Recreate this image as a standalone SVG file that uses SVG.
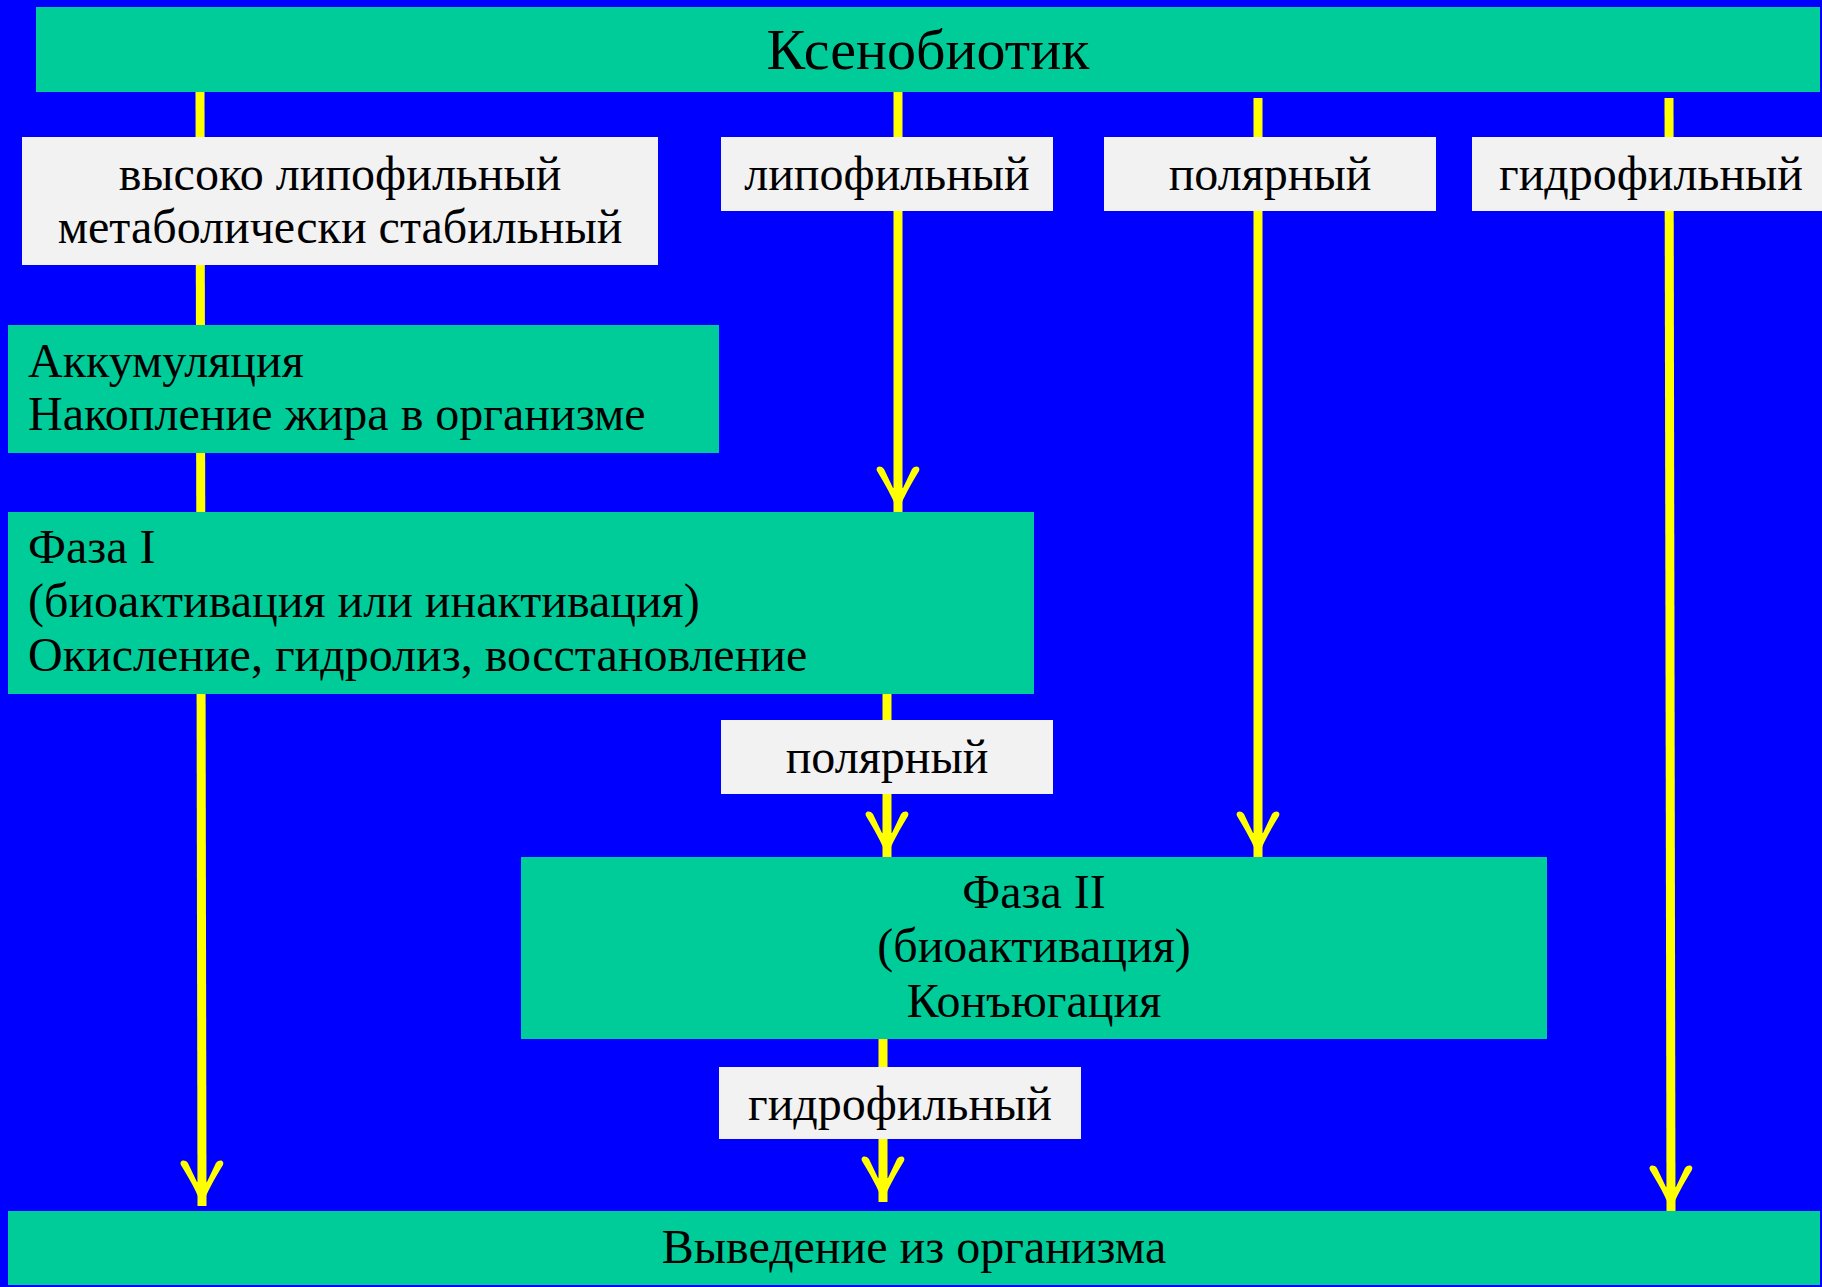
<svg xmlns="http://www.w3.org/2000/svg" width="1822" height="1287" viewBox="0 0 1822 1287">
<style>
.node{fill:#00cc99}
.lbl{fill:#f2f2f2}
.t{font-family:"Liberation Serif","Times New Roman",serif;font-size:48px;fill:#000}
.c{text-anchor:middle}
.ln{stroke:#ffff00;stroke-width:9;fill:none}
</style>
<defs>
<marker id="ah" markerUnits="userSpaceOnUse" markerWidth="60" markerHeight="60" refX="0" refY="0" viewBox="-30 -30 60 60" orient="auto" overflow="visible">
<path d="M0,0 C-14,-5 -28,-13 -41,-21 C-46,-23 -47,-17 -43,-14 L-24,-5 L-24,5 L-43,14 C-47,17 -46,23 -41,21 C-28,13 -14,5 0,0 Z" fill="#ffff00"/>
</marker>
</defs>
<rect width="1822" height="1287" fill="#0000ff"/>
<g id="connectors">
<line class="ln" x1="200" y1="92" x2="202" y2="1206" marker-end="url(#ah)"/>
<line class="ln" x1="898" y1="92" x2="898" y2="512" marker-end="url(#ah)"/>
<line class="ln" x1="1258" y1="98" x2="1258" y2="857" marker-end="url(#ah)"/>
<line class="ln" x1="1669" y1="98" x2="1671" y2="1211" marker-end="url(#ah)"/>
<line class="ln" x1="887" y1="694" x2="887" y2="857" marker-end="url(#ah)"/>
<line class="ln" x1="883" y1="1039" x2="883" y2="1202" marker-end="url(#ah)"/>
</g>
<g id="xenobiotic">
<rect class="node" x="36" y="7" width="1784" height="85"/>
<text class="t c" x="928" y="69" style="font-size:58px">Ксенобиотик</text>
</g>
<g id="label-high-lipophilic">
<rect class="lbl" x="22" y="137" width="636" height="128"/>
<text class="t c" x="340" y="190">высоко липофильный</text>
<text class="t c" x="340" y="243">метаболически стабильный</text>
</g>
<g id="label-lipophilic">
<rect class="lbl" x="721" y="137" width="332" height="74"/>
<text class="t c" x="887" y="190">липофильный</text>
</g>
<g id="label-polar">
<rect class="lbl" x="1104" y="137" width="332" height="74"/>
<text class="t c" x="1270" y="190">полярный</text>
</g>
<g id="label-hydrophilic">
<rect class="lbl" x="1472" y="137" width="350" height="74"/>
<text class="t c" x="1651" y="190">гидрофильный</text>
</g>
<g id="accumulation">
<rect class="node" x="8" y="325" width="711" height="128"/>
<text class="t" x="28" y="377">Аккумуляция</text>
<text class="t" x="28" y="430">Накопление жира в организме</text>
</g>
<g id="phase1">
<rect class="node" x="8" y="512" width="1026" height="182"/>
<text class="t" x="28" y="563">Фаза I</text>
<text class="t" x="28" y="617">(биоактивация или инактивация)</text>
<text class="t" x="28" y="671">Окисление, гидролиз, восстановление</text>
</g>
<g id="label-polar-2">
<rect class="lbl" x="721" y="720" width="332" height="74"/>
<text class="t c" x="887" y="773">полярный</text>
</g>
<g id="phase2">
<rect class="node" x="521" y="857" width="1026" height="182"/>
<text class="t c" x="1034" y="908">Фаза II</text>
<text class="t c" x="1034" y="962">(биоактивация)</text>
<text class="t c" x="1034" y="1017">Конъюгация</text>
</g>
<g id="label-hydrophilic-2">
<rect class="lbl" x="719" y="1067" width="362" height="72"/>
<text class="t c" x="900" y="1120">гидрофильный</text>
</g>
<g id="excretion">
<rect class="node" x="8" y="1211" width="1812" height="74"/>
<text class="t c" x="914" y="1263">Выведение из организма</text>
</g>
</svg>
